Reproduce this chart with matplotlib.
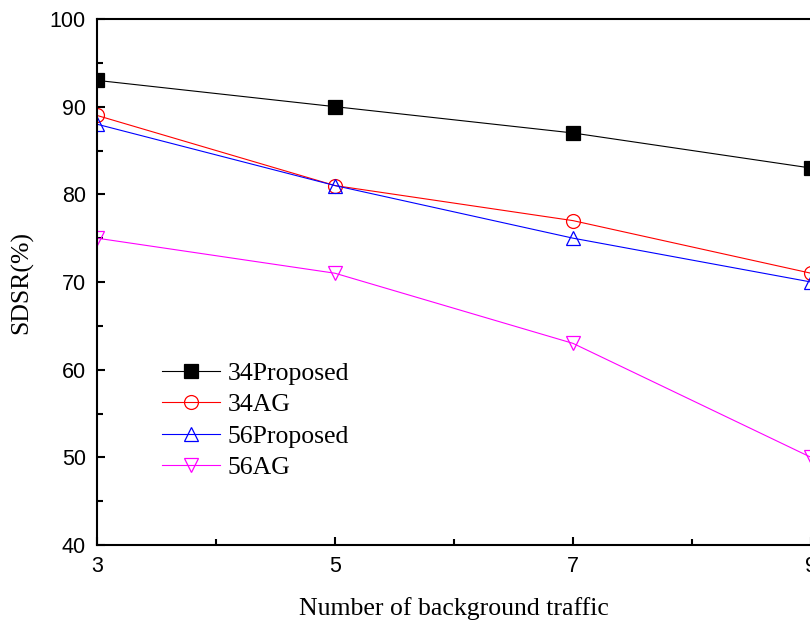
import matplotlib

matplotlib.use("Agg")
import matplotlib.pyplot as plt  # noqa: E402
from matplotlib.ticker import MultipleLocator  # noqa: E402

# background traffic counts and SDSR (%) per scheme
traffic = [3, 5, 7, 9]
p34 = [93, 90, 87, 83]
ag34 = [89, 81, 77, 71]
p56 = [88, 81, 75, 70]
ag56 = [75, 71, 63, 50]

series = [
    ("34Proposed", p34, "black", "s", "black"),
    ("34AG", ag34, "red", "o", "none"),
    ("56Proposed", p56, "blue", "^", "none"),
    ("56AG", ag56, "magenta", "v", "none"),
]

fig = plt.figure(figsize=(8.1, 6.23), dpi=100)
ax = fig.add_axes([97 / 810, 1 - 545 / 623, 714 / 810, 526 / 623])

for name, vals, col, mk, fc in series:
    ax.plot(traffic, vals, color=col, lw=0.8, marker=mk, ms=10,
            mfc=fc, mec=col, mew=0.9, label=name)

ax.set_xlim(3, 9)
ax.set_ylim(40, 100)
ax.set_xticks(traffic)
ax.xaxis.set_minor_locator(MultipleLocator(1))
ax.yaxis.set_major_locator(MultipleLocator(10))
ax.yaxis.set_minor_locator(MultipleLocator(5))
ax.tick_params(which="both", direction="in", width=1.5, labelsize=15.5)
ax.tick_params(which="major", length=6, pad=8)
ax.tick_params(which="minor", length=4)
for lab in ax.get_xticklabels() + ax.get_yticklabels():
    lab.set_fontfamily("Liberation Sans")
for sp in ax.spines.values():
    sp.set_linewidth(1.5)

ax.set_xlabel("Number of background traffic", family="Liberation Serif",
              fontsize=18.5, labelpad=14)
ax.set_ylabel("SDSR(%)", family="Liberation Serif", fontsize=18.5, labelpad=12)

ax.legend(loc="upper left", bbox_to_anchor=(152 / 810, 1 - 352 / 623),
          bbox_transform=fig.transFigure, frameon=False,
          prop={"family": "Liberation Serif", "size": 18.5},
          handlelength=2.25, labelspacing=0.32, handletextpad=0.3,
          borderaxespad=0)

fig.savefig("out.png", dpi=100)
